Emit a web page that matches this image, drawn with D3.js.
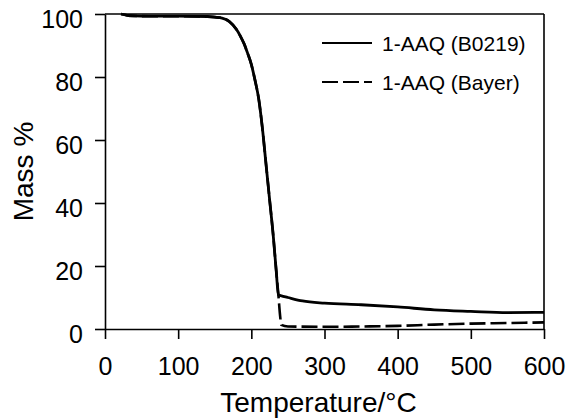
<!DOCTYPE html>
<html>
<head>
<meta charset="utf-8">
<script src="https://cdn.jsdelivr.net/npm/d3@7"></script>
<style>
  body { margin: 0; background: #fff; }
  svg { display: block; font-family: Arial, "Liberation Sans", sans-serif; }
</style>
</head>
<body>
<div id="chart"></div>
<script>
// TGA data (temperature in °C, mass in %)
const tempB0219 = [22, 30, 40, 60, 100, 140, 150, 160, 170, 180, 185, 190, 195, 200, 205, 210, 215, 220, 225, 230, 234, 237, 240, 250, 270, 300, 350, 400, 450, 500, 550, 600];
const massB0219 = [100, 99.6, 99.4, 99.3, 99.3, 99.2, 99.0, 98.7, 97.6, 95.0, 93.0, 90.6, 87.5, 84.0, 79.0, 73.2, 64.0, 52.5, 41, 29.5, 18.5, 10.8, 10.6, 10, 8.9, 8.2, 7.7, 7.0, 6.1, 5.6, 5.2, 5.3];

const tempBayer = [22, 30, 40, 60, 100, 140, 150, 160, 170, 180, 185, 190, 195, 200, 205, 210, 215, 220, 225, 230, 234, 237, 239, 241, 250, 300, 350, 400, 450, 500, 550, 600];
const massBayer = [100, 99.6, 99.4, 99.3, 99.3, 99.2, 99.0, 98.7, 97.6, 95.0, 93.0, 90.6, 87.5, 84.0, 79.0, 73.2, 64.0, 52.5, 41, 29.5, 18.5, 10.8, 5, 1.3, 0.8, 0.7, 0.8, 1.0, 1.4, 1.7, 1.9, 2.1];

const xTicks = [0, 100, 200, 300, 400, 500, 600];
const yTicks = [0, 20, 40, 60, 80, 100];
const seriesNames = ["1-AAQ (B0219)", "1-AAQ (Bayer)"];

const W = 571, H = 419;
const margin = {top: 14, right: 27, bottom: 90, left: 105};
const width = W - margin.left - margin.right,
      height = H - margin.top - margin.bottom;

const svg = d3.select("#chart").append("svg")
  .attr("width", W).attr("height", H);

const g = svg.append("g")
  .attr("transform", `translate(${margin.left},${margin.top})`);

const x = d3.scaleLinear().domain([0, 600]).range([0, width]);
const y = d3.scaleLinear().domain([0, 100]).range([height, 0]);

// axes
const xAxis = g.append("g")
  .attr("transform", `translate(0,${height})`)
  .call(d3.axisBottom(x).tickValues(xTicks).tickSize(10).tickPadding(18).tickSizeOuter(0));

const yAxis = g.append("g")
  .call(d3.axisLeft(y).tickValues(yTicks).tickSize(10).tickPadding(12).tickSizeOuter(0));

[xAxis, yAxis].forEach(a => {
  a.selectAll("path, line").attr("stroke", "#000").attr("stroke-width", 1.6);
  a.selectAll("text").attr("fill", "#000").style("font-size", "25px")
    .style("font-family", "Arial, 'Liberation Sans', sans-serif");
});
yAxis.selectAll("text").attr("dy", "0.52em");

// top and right border
g.append("line").attr("x1", 0).attr("x2", width).attr("y1", 0).attr("y2", 0)
  .attr("stroke", "#000").attr("stroke-width", 1.6);
g.append("line").attr("x1", width).attr("x2", width).attr("y1", 0).attr("y2", height)
  .attr("stroke", "#000").attr("stroke-width", 1.6);

// curves
const line = d3.line()
  .x(d => x(d[0]))
  .y(d => y(d[1]))
  .curve(d3.curveMonotoneX);

const dataBayer = tempBayer.map((t, i) => [t, massBayer[i]]);
const dataB0219 = tempB0219.map((t, i) => [t, massB0219[i]]);

g.append("path")
  .datum(dataBayer)
  .attr("d", line)
  .attr("fill", "none")
  .attr("stroke", "#000")
  .attr("stroke-width", 2.6)
  .attr("stroke-dasharray", "16,5");

g.append("path")
  .datum(dataB0219)
  .attr("d", line)
  .attr("fill", "none")
  .attr("stroke", "#000")
  .attr("stroke-width", 2.8);

// legend
const legend = svg.append("g");
const legendRows = [
  {name: seriesNames[0], y: 43, dash: null},
  {name: seriesNames[1], y: 82, dash: "16,5"}
];
legendRows.forEach(r => {
  legend.append("line")
    .attr("x1", 322).attr("x2", 372)
    .attr("y1", r.y).attr("y2", r.y)
    .attr("stroke", "#000").attr("stroke-width", 2)
    .attr("stroke-dasharray", r.dash);
  legend.append("text")
    .attr("x", 382).attr("y", r.y + 8)
    .style("font-size", "21px")
    .attr("fill", "#000")
    .text(r.name);
});

// axis titles
svg.append("text")
  .attr("x", margin.left + width / 2 - 6)
  .attr("y", 412)
  .attr("text-anchor", "middle")
  .style("font-size", "28px")
  .text("Temperature/°C");

svg.append("text")
  .attr("transform", `translate(33,${margin.top + height / 2}) rotate(-90)`)
  .attr("text-anchor", "middle")
  .style("font-size", "28px")
  .text("Mass %");
</script>
</body>
</html>
